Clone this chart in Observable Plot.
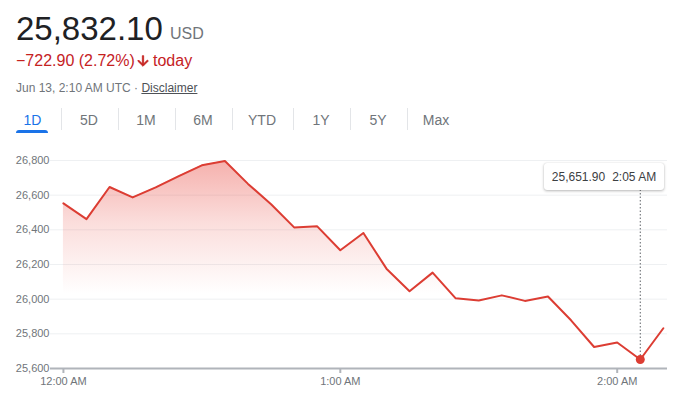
<!DOCTYPE html>
<html><head><meta charset="utf-8">
<script src="https://cdn.jsdelivr.net/npm/d3@7"></script>
<script src="https://cdn.jsdelivr.net/npm/@observablehq/plot@0.6"></script>
<style>
body{margin:0;background:#fff;font-family:Arial,"Liberation Sans",sans-serif;}
#wrap{position:relative;width:698px;height:394px;overflow:hidden;}
.abs{position:absolute;white-space:nowrap;line-height:1;}
.tab{position:absolute;white-space:nowrap;line-height:1;font-size:14px;color:#70757a;transform:translateX(-50%);}
.sep{position:absolute;width:1px;background:#e3e5e8;}
#tip{position:absolute;background:#fff;border-radius:3px;box-shadow:0 1px 3px rgba(0,0,0,0.28),0 0 1px rgba(0,0,0,0.15);font-size:12px;color:#3c4043;display:flex;align-items:center;justify-content:center;white-space:nowrap;}
</style></head>
<body><div id="wrap"></div>
<script>
// ---- data ----
const priceNow = "25,832.10";
const currency = "USD";
const changeText = "\u2212722.90 (2.72%)";
const changeSuffix = "today";
const dateLine = "Jun 13, 2:10 AM UTC \u00b7 ";
const disclaimer = "Disclaimer";
const tabs = ["1D","5D","1M","6M","YTD","1Y","5Y","Max"];
const times = ["00:00","00:05","00:10","00:15","00:20","00:25","00:30","00:35","00:40","00:45",
               "00:50","00:55","01:00","01:05","01:10","01:15","01:20","01:25","01:30","01:35",
               "01:40","01:45","01:50","01:55","02:00","02:05","02:10"];
const prices = [26553,26462,26647,26587,26645,26710,26772,26797,26665,26548,
                26414,26420,26282,26382,26176,26046,26153,26005,25992,26022,
                25990,26015,25878,25724,25750,25651.90,25832.10];
const yTicks = [25600,25800,26000,26200,26400,26600,26800];
const xTickTimes = ["00:00","01:00","02:00"];
const xTickLabels = ["12:00 AM","1:00 AM","2:00 AM"];
const hoverTime = "02:05";
const hoverLabel = "2:05 AM";

// ---- layout ----
const wrap = document.getElementById("wrap");
function txt(html, left, baseline, size, color, extra=""){
  const d = document.createElement("div");
  d.className = "abs";
  d.style.cssText = `left:${left}px;top:${baseline - 0.8465*size}px;font-size:${size}px;color:${color};${extra}`;
  d.innerHTML = html;
  wrap.appendChild(d);
  return d;
}
txt(priceNow, 16, 40, 33, "#202124");
txt(currency, 170, 40, 16, "#70757a");
const redC = "#c5221f";
txt(changeText, 16, 66.5, 16, redC);
txt(changeSuffix, 153, 66.5, 16, redC);
const arrow = document.createElement("div");
arrow.className = "abs";
arrow.style.cssText = "left:135px;top:52.5px;width:16px;height:16px;";
arrow.innerHTML = `<svg width="16" height="16" viewBox="0 0 24 24"><path fill="${redC}" d="M20 12l-1.41-1.41L13 16.17V4h-2v12.17l-5.58-5.59L4 12l8 8 8-8z" stroke="${redC}" stroke-width="1.2"/></svg>`;
wrap.appendChild(arrow);
txt(dateLine + `<span style="color:#4d5156;text-decoration:underline;">${disclaimer}</span>`, 16, 92.5, 12, "#70757a");

const tabCenters = [32.5, 89, 146, 203, 262, 321, 378, 436];
const sepXs = [60.5, 117.5, 174.5, 231.5, 292.5, 349.5, 406.5];
tabs.forEach((t,i)=>{
  const d = document.createElement("div");
  d.className = "tab";
  d.style.left = tabCenters[i] + "px";
  d.style.top = (125 - 0.8465*14) + "px";
  if (i === 0) d.style.color = "#1a73e8";
  d.textContent = t;
  wrap.appendChild(d);
});
sepXs.forEach(x=>{
  const s = document.createElement("div");
  s.className = "sep";
  s.style.cssText = `left:${x}px;top:108px;height:22px;`;
  wrap.appendChild(s);
});
const bar = document.createElement("div");
bar.className = "abs";
bar.style.cssText = "left:16px;top:129.5px;width:32px;height:3.5px;background:#1a73e8;border-radius:3px 3px 0 0;";
wrap.appendChild(bar);

// ---- chart ----
const parse = s => new Date("2023-06-13T" + s + ":00Z");
const data = times.map((t,i)=>({t: parse(t), v: prices[i]}));
const xTicks = xTickTimes.map(parse);
const labelMap = new Map(xTicks.map((d,i)=>[+d, xTickLabels[i]]));
const hover = data.find(d => +d.t === +parse(hoverTime));
const minute = 60000;
const red = "#dc3d33";
const axisGray = "#b0b4ba";
const svgTop = 145;

const chart = Plot.plot({
  width: 698, height: 249,
  marginLeft: 50, marginRight: 31, marginTop: 15, marginBottom: 26,
  style: {fontFamily: "Arial, 'Liberation Sans', sans-serif", fontSize: "11px", color: "#70757a", background: "transparent", overflow: "visible"},
  x: {type: "utc", domain: [new Date(+data[0].t - 2.8*minute), new Date(+data[data.length-1].t + 0.9*minute)], label: null},
  y: {domain: [yTicks[0], yTicks[yTicks.length-1]], label: null},
  marks: [
    Plot.gridY(yTicks.slice(1), {stroke: "#eef0f2", strokeOpacity: 1}),
    Plot.areaY(data, {x: "t", y1: yTicks[0], y2: "v", fill: "url(#areaGrad)"}),
    Plot.ruleY([yTicks[0]], {stroke: axisGray, strokeWidth: 2}),
    Plot.axisY(yTicks, {tickSize: 0, tickPadding: 1, tickFormat: d3.format(","), fill: "#70757a", label: null}),
    Plot.axisX(xTicks, {tickSize: 5, tickPadding: 4, tickFormat: d => labelMap.get(+d), stroke: axisGray, strokeWidth: 2, fill: "#70757a", label: null}),
    Plot.ruleX([hover], {x: "t", y1: "v", y2: 26740, stroke: "#5f6368", strokeWidth: 1, strokeDasharray: "1.5,2"}),
    Plot.lineY(data, {x: "t", y: "v", stroke: red, strokeWidth: 2, strokeLinejoin: "round"}),
    Plot.dot([hover], {x: "t", y: "v", r: 4.5, fill: red})
  ]
});
const defs = d3.select(chart).append("defs");
const grad = defs.append("linearGradient").attr("id", "areaGrad").attr("x1", 0).attr("y1", 0).attr("x2", 0).attr("y2", 1);
grad.append("stop").attr("offset", 0).attr("stop-color", "#e8453c").attr("stop-opacity", 0.42);
grad.append("stop").attr("offset", 0.3).attr("stop-color", "#e8453c").attr("stop-opacity", 0.18);
grad.append("stop").attr("offset", 0.64).attr("stop-color", "#e8453c").attr("stop-opacity", 0);
chart.style.position = "absolute";
chart.style.left = "0px";
chart.style.top = svgTop + "px";
wrap.appendChild(chart);

// tooltip
const xs = chart.scale("x"), ys = chart.scale("y");
const tipW = 120, tipH = 27;
const tip = document.createElement("div");
tip.id = "tip";
const tipRight = xs.range[1] - 3;
tip.style.left = Math.min(xs.apply(hover.t) - tipW/2, tipRight - tipW) + "px";
tip.style.top = (svgTop + ys.apply(yTicks[yTicks.length-1]) + 3) + "px";
tip.style.width = tipW + "px";
tip.style.height = tipH + "px";
tip.innerHTML = `<span>${d3.format(",.2f")(hover.v)}</span><span style="margin-left:7px">${hoverLabel}</span>`;
wrap.appendChild(tip);
</script>
</body></html>
